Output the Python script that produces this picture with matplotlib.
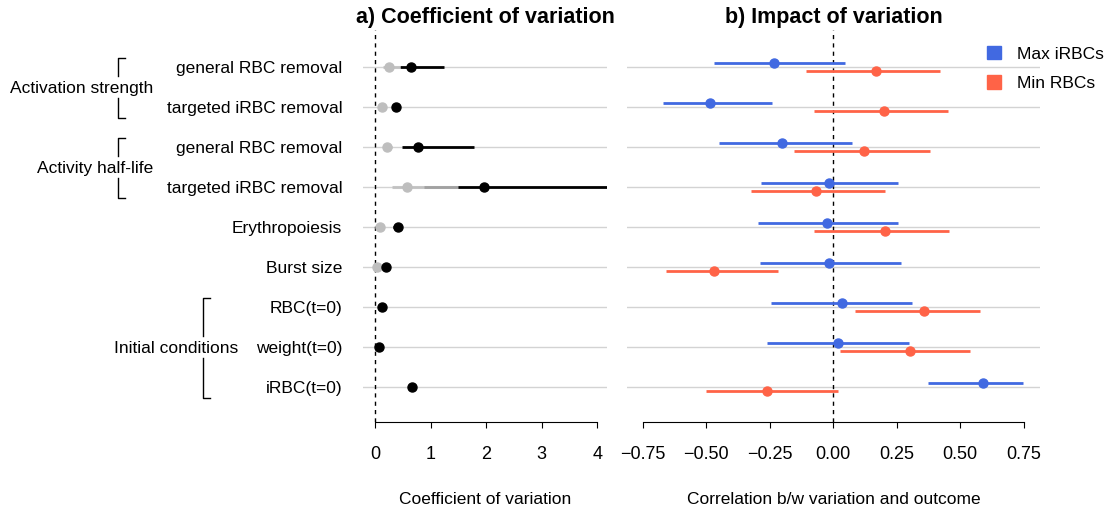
import numpy as np
from matplotlib import pyplot as plt
from matplotlib.patches import Patch
import matplotlib.transforms as mtransforms

plt.rcParams["font.family"] = ["Liberation Sans", "DejaVu Sans"]

# Row labels, top to bottom.
labels = ["general RBC removal", "targeted iRBC removal", "general RBC removal",
          "targeted iRBC removal", "Erythropoiesis", "Burst size",
          "RBC(t=0)", "weight(t=0)", "iRBC(t=0)"]

# a) Coefficient of variation: black estimate with interval, grey one behind it.
cv_black = [0.65, 0.37, 0.78, 1.96, 0.41, 0.19, 0.13, 0.07, 0.67]
cv_black_lo = [0.45, 0.30, 0.49, 0.88, 0.33, 0.15, 0.10, 0.05, 0.63]
cv_black_hi = [1.25, 0.45, 1.79, 4.50, 0.47, 0.22, 0.16, 0.09, 0.70]
cv_grey = [0.26, 0.13, 0.21, 0.57, 0.09, 0.04, np.nan, np.nan, np.nan]
cv_grey_lo = [0.15, 0.08, 0.15, 0.30, 0.06, 0.02, np.nan, np.nan, np.nan]
cv_grey_hi = [0.45, 0.20, 0.30, 1.50, 0.13, 0.06, np.nan, np.nan, np.nan]

# b) Impact of variation: correlation with outcome.
max_irbc = [-0.232, -0.487, -0.202, -0.017, -0.024, -0.016, 0.033, 0.017, 0.591]
max_irbc_lo = [-0.471, -0.670, -0.449, -0.286, -0.295, -0.290, -0.245, -0.261, 0.373]
max_irbc_hi = [0.045, -0.243, 0.072, 0.256, 0.255, 0.265, 0.311, 0.297, 0.748]
min_rbc = [0.167, 0.201, 0.120, -0.067, 0.205, -0.468, 0.356, 0.303, -0.262]
min_rbc_lo = [-0.108, -0.077, -0.156, -0.325, -0.075, -0.660, 0.087, 0.028, -0.502]
min_rbc_hi = [0.420, 0.452, 0.379, 0.204, 0.457, -0.219, 0.579, 0.538, 0.019]

# Groups: (label, first row, last row, bracket x in figure fraction)
groups = [("Activation strength", 0, 1, 0.1064),
          ("Activity half-life", 2, 3, 0.1064),
          ("Initial conditions", 6, 8, 0.183)]

blue = "#4169E1"
red = "#FF6347"
grey = "#BEBEBE"
grid_c = "#D3D3D3"

rows = np.arange(len(labels))

fig = plt.figure(figsize=(11.09, 5.05), dpi=100)
ax1 = fig.add_axes([0.3273, 0.1644, 0.2200, 0.7762])
ax2 = fig.add_axes([0.5654, 0.1644, 0.3724, 0.7762])

for ax in (ax1, ax2):
    for y in rows:
        ax.axhline(y, color=grid_c, lw=1, zorder=0)
    ax.axvline(0, color="black", lw=1, ls=(0, (3, 3)), zorder=1)
    for s in ("top", "right", "left"):
        ax.spines[s].set_visible(False)
    ax.set_ylim(8.875, -0.925)
    ax.tick_params(axis="y", length=0)
    ax.tick_params(axis="x", length=4, pad=13, labelsize=13)

# Panel a
ax1.hlines(rows, cv_black_lo, cv_black_hi, color="black", lw=2, zorder=2)
ax1.hlines(rows, cv_grey_lo, cv_grey_hi, color=grey, lw=2.2, alpha=0.85, zorder=3)
ax1.plot(cv_grey, rows, "o", color=grey, ms=6.5, zorder=4)
ax1.plot(cv_black, rows, "o", color="black", ms=6.5, zorder=5)
ax1.set_xlim(-0.216, 4.176)
ax1.spines["bottom"].set_bounds(0, 4)
ax1.set_xticks([0, 1, 2, 3, 4])
ax1.set_yticks(rows)
ax1.set_yticklabels(labels, fontsize=12.5)
ax1.tick_params(axis="y", pad=15)
ax1.set_xlabel("Coefficient of variation", fontsize=12.5, labelpad=21)
ax1.set_title("a) Coefficient of variation", fontsize=15.5, fontweight="bold", pad=5)

# Panel b
off = 0.1
ax2.hlines(rows - off, max_irbc_lo, max_irbc_hi, color=blue, lw=2, zorder=2)
ax2.plot(max_irbc, rows - off, "o", color=blue, ms=6.5, zorder=3)
ax2.hlines(rows + off, min_rbc_lo, min_rbc_hi, color=red, lw=2, zorder=2)
ax2.plot(min_rbc, rows + off, "o", color=red, ms=6.5, zorder=3)
ax2.set_xlim(-0.812, 0.814)
ax2.spines["bottom"].set_bounds(-0.75, 0.75)
ax2.set_xticks([-0.75, -0.5, -0.25, 0, 0.25, 0.5, 0.75])
ax2.set_xticklabels(["\u22120.75", "\u22120.50", "\u22120.25", "0.00", "0.25", "0.50", "0.75"])
ax2.set_yticks([])
ax2.set_xlabel("Correlation b/w variation and outcome", fontsize=12.5, labelpad=21)
ax2.set_title("b) Impact of variation", fontsize=15.5, fontweight="bold", pad=5)

# Group brackets on the left
trans = mtransforms.blended_transform_factory(fig.transFigure, ax1.transData)
tick_w = 0.006
for name, first, last, bx in groups:
    top = first - 0.22
    bot = last + 0.28
    mid = (first + last) / 2
    gap = 0.28
    ax1.plot([bx + tick_w, bx, bx], [top, top, mid - gap], color="black", lw=1,
             transform=trans, clip_on=False)
    ax1.plot([bx, bx, bx + tick_w], [mid + gap, bot, bot], color="black", lw=1,
             transform=trans, clip_on=False)
    ax1.text(bx + 0.0316, mid + 0.05, name, ha="right", va="center", fontsize=12.5,
             transform=trans)

handles = [Patch(color=blue, label="Max iRBCs"), Patch(color=red, label="Min RBCs")]
fig.legend(handles=handles, loc="upper left", bbox_to_anchor=(0.884, 0.923),
           frameon=False, fontsize=12.5, handlelength=0.8, handleheight=0.8,
           handletextpad=0.9, labelspacing=0.8, borderaxespad=0)

fig.savefig("out.png", dpi=100)
